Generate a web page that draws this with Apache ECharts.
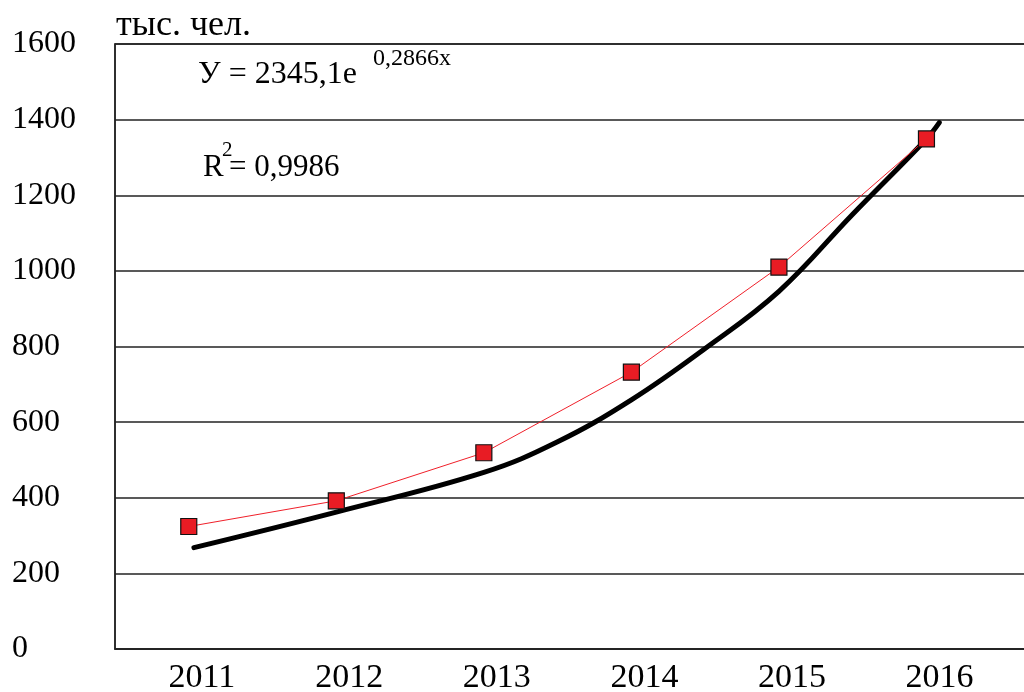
<!DOCTYPE html>
<html>
<head>
<meta charset="utf-8">
<script src="https://cdn.jsdelivr.net/npm/echarts@6/dist/echarts.min.js"></script>
<style>
  html, body { margin: 0; padding: 0; background: #ffffff; }
  #chart { width: 1024px; height: 692px; }
</style>
</head>
<body>
<div id="chart"></div>
<script>
// Population, thousand people, by year
const years = [2011, 2012, 2013, 2014, 2015, 2016];
const population = [324, 392, 519, 732, 1010, 1349];

// Exponential trend line, sampled along the year axis
const trendYears = [2011.035, 2012, 2013, 2013.5, 2014, 2014.5, 2015, 2015.5, 2016, 2016.087];
const trendValues = [268, 362, 467, 548, 659, 795, 946, 1150, 1349, 1392];

// Y-axis ticks
const yMin = 0, yMax = 1600, yStep = 200;

const unitLabel = 'тыс. чел.';
const equationMain = 'У = 2345,1е';
const equationPower = '0,2866x';
const rSquared = '0,9986';

const serif = '"Liberation Serif", "DejaVu Serif", serif';

const chart = echarts.init(document.getElementById('chart'), null, { renderer: 'canvas' });

chart.setOption({
  backgroundColor: '#ffffff',
  animation: false,
  grid: {
    left: 115, top: 44, bottom: 43, right: -50,
    outerBoundsMode: 'none',
    containLabel: false,
    show: true, borderColor: '#222222', borderWidth: 1.5, backgroundColor: 'transparent'
  },
  xAxis: {
    type: 'value',
    min: 2010.5, max: 2017, interval: 0.5,
    axisLine: { show: true, lineStyle: { color: '#222222', width: 1.5 } },
    axisTick: { show: false },
    splitLine: { show: false },
    axisLabel: {
      margin: 12,
      color: '#000000',
      fontFamily: serif,
      fontSize: 34,
      padding: [0, 0, 0, 26],
      formatter: v => Number.isInteger(v) && years.includes(v) ? String(v) : ''
    }
  },
  yAxis: {
    type: 'value',
    min: yMin, max: yMax, interval: yStep,
    axisLine: { show: true, lineStyle: { color: '#222222', width: 1.5 } },
    axisTick: { show: false },
    splitLine: { show: true, lineStyle: { color: '#222222', width: 1.5 } },
    axisLabel: {
      align: 'left',
      margin: 103,
      color: '#000000',
      fontFamily: serif,
      fontSize: 32,
      formatter: v => String(v)
    }
  },
  series: [
    {
      name: 'trend',
      type: 'line',
      data: trendYears.map((y, i) => [y, trendValues[i]]),
      smooth: 0.4,
      showSymbol: false,
      lineStyle: { color: '#000000', width: 5, cap: 'round' },
      z: 3
    },
    {
      name: 'population',
      type: 'line',
      data: years.map((y, i) => [y, population[i]]),
      symbol: 'rect',
      symbolSize: 16,
      lineStyle: { color: '#f0202a', width: 1 },
      itemStyle: { color: '#e81c24', borderColor: '#111111', borderWidth: 1.2 },
      z: 4
    }
  ],
  graphic: [
    {
      type: 'text', left: 116, top: 8,
      style: { text: unitLabel, font: '36px ' + serif, fill: '#000000' }
    },
    {
      type: 'text', left: 198, top: 59,
      style: { text: equationMain, font: '32px ' + serif, fill: '#000000' }
    },
    {
      type: 'text', left: 373, top: 47,
      style: { text: equationPower, font: '24px ' + serif, fill: '#000000' }
    },
    {
      type: 'text', left: 203, top: 152,
      style: { text: 'R', font: '31px ' + serif, fill: '#000000' }
    },
    {
      type: 'text', left: 222, top: 140,
      style: { text: '2', font: '21px ' + serif, fill: '#000000' }
    },
    {
      type: 'text', left: 229, top: 152,
      style: { text: '= ' + rSquared, font: '31px ' + serif, fill: '#000000' }
    }
  ]
});
</script>
</body>
</html>
